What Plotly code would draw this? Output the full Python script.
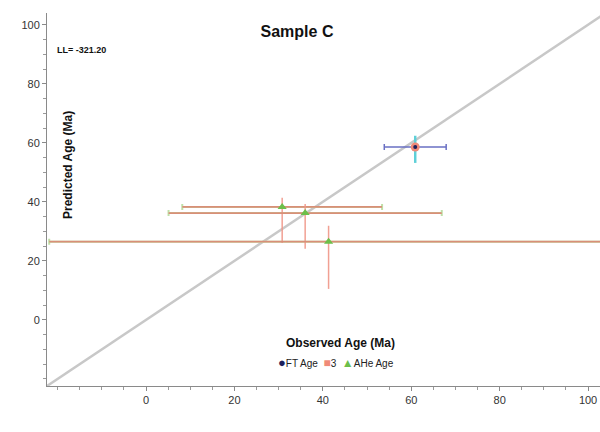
import plotly.graph_objects as go

# ---- data ----
ft_obs = [60.9]
ft_pred = [58.6]
ft_obs_err = [7.0]
ft_pred_err_plus = [3.8]
ft_pred_err_minus = [5.4]

s3_obs = [60.9]
s3_pred = [58.6]

ahe_obs = [30.8, 36.0, 41.3]
ahe_pred = [38.3, 36.2, 26.5]
ahe_obs_err = [22.6, 30.9, 63.2]
ahe_pred_err_plus = [3.1, 3.1, 5.4]
ahe_pred_err_minus = [12.2, 12.1, 16.0]

diag = [-30, 110]

x_ticks = [0, 20, 40, 60, 80, 100]
y_ticks = [0, 20, 40, 60, 80, 100]

title_text = "Sample C"
ll_text = "LL= -321.20"
x_title = "Observed Age (Ma)"
y_title = "Predicted Age (Ma)"

NAVY = "#1c1f5c"
SALMON = "#f08a78"
GREEN = "#6cbf4a"
BLUE_BAR = "#6a70c4"
CYAN_BAR = "#5fd0d8"
NARROW = "Liberation Sans Narrow, Arial Narrow, Liberation Sans, Arial, sans-serif"
SANS = "Liberation Sans, Arial, sans-serif"

fig = go.Figure()

# 1:1 line
fig.add_trace(go.Scatter(x=diag, y=diag, mode="lines",
                         line=dict(color="#c8c8c8", width=2.5),
                         showlegend=False, hoverinfo="skip"))

# AHe green error bars (under)
fig.add_trace(go.Scatter(x=ahe_obs, y=ahe_pred, mode="markers",
                         marker=dict(size=1, opacity=0),
                         error_x=dict(type="data", array=ahe_obs_err, color="#bfe0a8",
                                      thickness=2.0, width=3),
                         showlegend=False, hoverinfo="skip"))
# salmon error bars on AHe
fig.add_trace(go.Scatter(x=ahe_obs, y=ahe_pred, mode="markers",
                         marker=dict(size=1, opacity=0),
                         error_x=dict(type="data", array=ahe_obs_err, color="#d98f78",
                                      thickness=1.8, width=0),
                         error_y=dict(type="data", array=ahe_pred_err_plus,
                                      arrayminus=ahe_pred_err_minus,
                                      color="rgba(240,150,135,0.9)", thickness=1.5, width=0),
                         showlegend=False, hoverinfo="skip"))

# FT error bars
fig.add_trace(go.Scatter(x=ft_obs, y=ft_pred, mode="markers",
                         marker=dict(size=1, opacity=0),
                         error_x=dict(type="data", array=ft_obs_err, color=BLUE_BAR,
                                      thickness=1.5, width=3),
                         error_y=dict(type="data", array=ft_pred_err_plus,
                                      arrayminus=ft_pred_err_minus,
                                      color=CYAN_BAR, thickness=2.5, width=0),
                         showlegend=False, hoverinfo="skip"))

# series 3 marker
fig.add_trace(go.Scatter(x=s3_obs, y=s3_pred, mode="markers", name="3",
                         marker=dict(symbol="circle", size=9, color=SALMON),
                         showlegend=False))
# FT marker
fig.add_trace(go.Scatter(x=ft_obs, y=ft_pred, mode="markers", name="FT Age",
                         marker=dict(symbol="circle", size=4, color=NAVY),
                         showlegend=False))
# AHe markers
fig.add_trace(go.Scatter(x=ahe_obs, y=ahe_pred, mode="markers", name="AHe Age",
                         marker=dict(symbol="triangle-up", size=8, color=GREEN),
                         showlegend=False))

axis_common = dict(showgrid=False, zeroline=False, showline=True, linecolor="#8a8a8a",
                   linewidth=1, ticks="outside", ticklen=4, tickcolor="#8a8a8a",
                   automargin=False,
                   tickfont=dict(family=SANS, size=11, color="#333333"),
                   minor=dict(dtick=5, tick0=0, ticks="outside", ticklen=3, tickcolor="#9a9a9a"))

fig.update_xaxes(range=[-22.4, 102.7], tickmode="array", tickvals=x_ticks,
                 ticktext=[str(v) for v in x_ticks], **axis_common)
fig.update_yaxes(range=[-22.4, 104], tickmode="array", tickvals=y_ticks,
                 ticktext=[str(v) for v in y_ticks], **axis_common)

legend_html = (f'<span style="color:{NAVY};font-size:13px">●</span>FT Age  '
               f'<span style="color:{SALMON};font-size:12px">■</span>3  '
               f'<span style="color:{GREEN};font-size:12px">▲</span>AHe Age')

fig.update_layout(
    width=600, height=432,
    margin=dict(l=47, r=0, t=13, b=46, autoexpand=False),
    paper_bgcolor="white", plot_bgcolor="white",
    title=dict(text=f"<b>{title_text}</b>", xref="paper", x=(297 - 47) / 553, xanchor="center",
               yref="container", y=1 - 31 / 432, yanchor="middle", automargin=False,
               font=dict(family=SANS, size=16, color="#111111")),
    showlegend=False,
    annotations=[
        dict(text=f"<b>{ll_text}</b>", xref="paper", yref="paper",
             x=(55 - 47) / 553, y=(386 - 50) / 373, xanchor="left", yanchor="middle",
             showarrow=False, font=dict(family=NARROW, size=9, color="#111111")),
        dict(text=f"<b>{x_title}</b>", xref="paper", yref="paper",
             x=(340 - 47) / 553, y=(386 - 343) / 373, xanchor="center", yanchor="middle",
             showarrow=False, font=dict(family=SANS, size=12, color="#111111")),
        dict(text=f"<b>{y_title}</b>", xref="paper", yref="paper", textangle=-90,
             x=(68 - 47) / 553, y=(386 - 165) / 373, xanchor="center", yanchor="middle",
             showarrow=False, font=dict(family=SANS, size=12, color="#111111")),
        dict(text=legend_html, xref="paper", yref="paper",
             x=(336 - 47) / 553, y=(386 - 362) / 373, xanchor="center", yanchor="middle",
             showarrow=False, font=dict(family=NARROW, size=10, color="#222222")),
    ],
)

fig.write_html("out.html", config={"displayModeBar": False},
               post_script="document.body.style.margin='0';document.body.style.padding='0';")
